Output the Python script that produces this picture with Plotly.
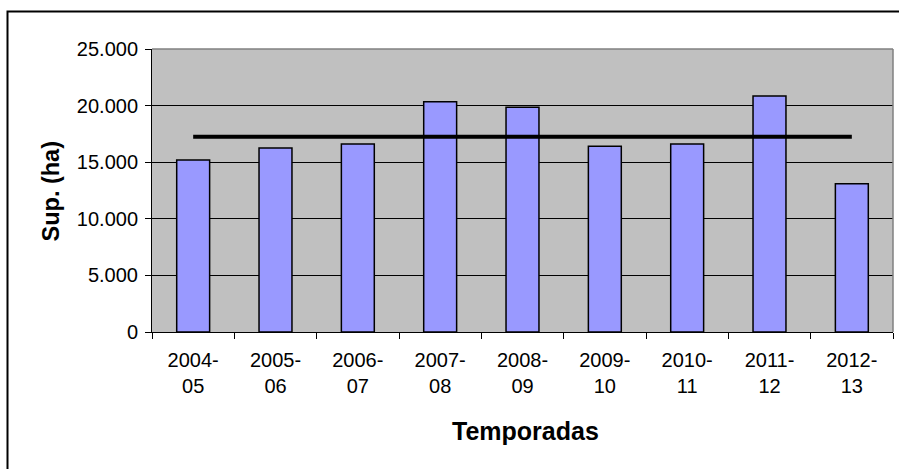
import plotly.graph_objects as go

temporadas = ["2004-<br>05", "2005-<br>06", "2006-<br>07", "2007-<br>08", "2008-<br>09",
              "2009-<br>10", "2010-<br>11", "2011-<br>12", "2012-<br>13"]
superficie = [15200, 16250, 16600, 20350, 19850, 16400, 16600, 20850, 13100]
media = [17240, 17240, 17240, 17240, 17240, 17240, 17240, 17240, 17240]
y_ticks = [0, 5000, 10000, 15000, 20000, 25000]

W, H = 899, 469
L, R, T, B = 152, 6, 49, 137
pw, ph = W - L - R, H - T - B

def px_x(x):
    return (x - L) / pw

def px_y(y):
    return (H - B - y) / ph

FONT = "Liberation Sans, Arial, sans-serif"

fig = go.Figure()
fig.add_trace(go.Bar(x=temporadas, y=superficie,
                     marker=dict(color="#9999FF", line=dict(color="black", width=1.5)),
                     showlegend=False, hoverinfo="skip"))
fig.add_trace(go.Scatter(x=temporadas, y=media, mode="lines",
                         line=dict(color="black", width=4), showlegend=False,
                         hoverinfo="skip"))

fig.update_layout(
    width=W, height=H,
    margin=dict(l=L, r=R, t=T, b=B, autoexpand=False),
    paper_bgcolor="white", plot_bgcolor="#C0C0C0",
    separators=",.",
    bargap=0.6,
    font=dict(family=FONT, color="black"),
    xaxis=dict(showline=True, linecolor="black", linewidth=1,
               ticks="outside", ticklen=6, tickcolor="black", tickwidth=1,
               tickson="boundaries", showgrid=False, ticklabelstandoff=10,
               tickfont=dict(size=20, family=FONT, color="black")),
    yaxis=dict(range=[0, 25000], tickvals=y_ticks, tickformat=",d",
               showline=True, linecolor="black", linewidth=1,
               ticks="outside", ticklen=6, tickcolor="black", tickwidth=1,
               showgrid=True, gridcolor="black", gridwidth=1, zeroline=False,
               ticklabelstandoff=3,
               tickfont=dict(size=20, family=FONT, color="black")),
    shapes=[
        dict(type="line", xref="paper", yref="paper", x0=0, x1=1, y0=1, y1=1,
             line=dict(color="#808080", width=1.5), layer="above"),
        dict(type="line", xref="paper", yref="paper", x0=1, x1=1, y0=0, y1=1,
             line=dict(color="#808080", width=1.5), layer="above"),
        dict(type="rect", xref="paper", yref="paper",
             x0=px_x(7.5), x1=px_x(910), y0=px_y(480), y1=px_y(11.5),
             line=dict(color="black", width=2), layer="above"),
    ],
    annotations=[
        dict(text="<b>Sup. (ha)</b>", textangle=-90, xref="paper", yref="paper",
             x=px_x(50.5), y=px_y(191), xanchor="center", yanchor="middle",
             showarrow=False, font=dict(size=23.5, family=FONT, color="black")),
        dict(text="<b>Temporadas</b>", xref="paper", yref="paper",
             x=px_x(525), y=px_y(431), xanchor="center", yanchor="middle",
             showarrow=False, font=dict(size=25, family=FONT, color="black")),
    ],
)

fig.write_html("out.html", config={"displayModeBar": False},
               post_script="document.body.style.margin='0';document.body.style.overflow='hidden';")
